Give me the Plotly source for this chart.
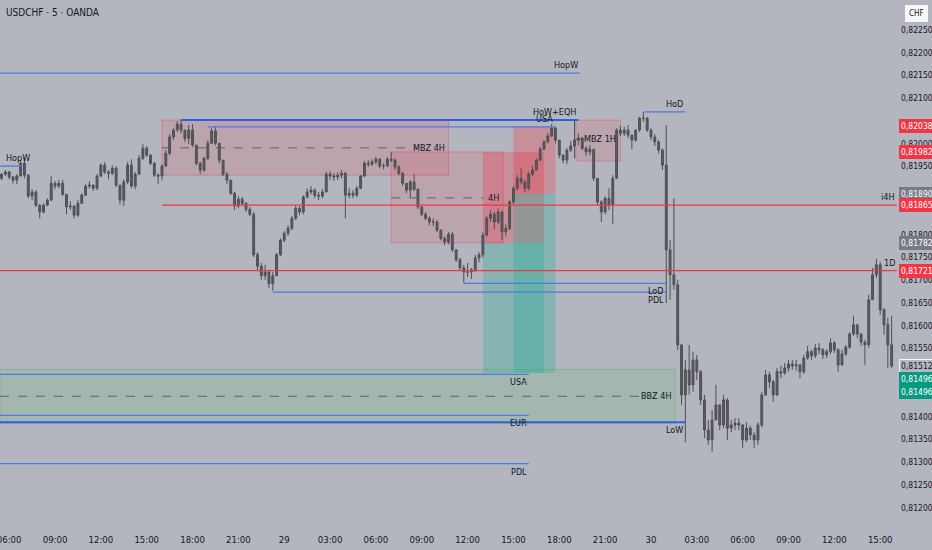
import plotly.graph_objects as go
import pandas as pd

# ---------------- data ----------------
SYMBOL = "USDCHF · 5 · OANDA"
START = "2024-05-28 05:30"   # first 15-minute bar
FIRST_OPEN = 0.81924

close = [
0.81933,0.81938,0.81927,0.81920,0.81929,0.81957,0.81931,0.81885,0.81894,0.81865,
0.81850,0.81865,0.81876,0.81913,0.81907,0.81913,0.81889,0.81861,0.81863,0.81843,
0.81869,0.81887,0.81907,0.81909,0.81902,0.81929,0.81953,0.81938,0.81935,0.81946,
0.81909,0.81876,0.81916,0.81953,0.81907,0.81933,0.81968,0.81990,0.81975,0.81957,
0.81931,0.81929,0.81951,0.81979,0.82015,0.82030,0.82043,0.82030,0.82012,0.82030,
0.81997,0.81957,0.81942,0.81968,0.82001,0.82028,0.82001,0.81964,0.81933,0.81920,
0.81891,0.81863,0.81878,0.81869,0.81856,0.81845,0.81756,0.81731,0.81710,0.81718,
0.81692,0.81710,0.81756,0.81788,0.81803,0.81814,0.81836,0.81858,0.81850,0.81883,
0.81894,0.81898,0.81887,0.81885,0.81894,0.81933,0.81929,0.81927,0.81931,0.81935,
0.81887,0.81891,0.81887,0.81902,0.81929,0.81957,0.81955,0.81960,0.81966,0.81951,
0.81951,0.81966,0.81964,0.81949,0.81935,0.81913,0.81898,0.81916,0.81900,0.81861,
0.81845,0.81836,0.81828,0.81828,0.81810,0.81792,0.81784,0.81801,0.81767,0.81745,
0.81727,0.81718,0.81718,0.81723,0.81749,0.81756,0.81799,0.81836,0.81845,0.81828,
0.81850,0.81806,0.81814,0.81872,0.81902,0.81924,0.81916,0.81902,0.81933,0.81942,
0.81964,0.81988,0.82004,0.82017,0.82034,0.82008,0.81975,0.81964,0.81986,0.81995,
0.82008,0.82012,0.81990,0.81982,0.81988,0.81924,0.81872,0.81850,0.81880,0.81865,
0.81924,0.82030,0.82023,0.82030,0.82019,0.82008,0.82030,0.82056,0.82056,0.82030,
0.82015,0.82004,0.81986,0.81953,0.81767,0.81712,0.81690,0.81558,0.81448,0.81503,
0.81470,0.81525,0.81499,0.81437,0.81371,0.81349,0.81393,0.81426,0.81382,0.81437,
0.81375,0.81382,0.81386,0.81382,0.81349,0.81375,0.81360,0.81349,0.81382,0.81448,
0.81492,0.81477,0.81448,0.81499,0.81496,0.81507,0.81516,0.81512,0.81514,0.81499,
0.81529,0.81543,0.81534,0.81551,0.81547,0.81536,0.81543,0.81562,0.81547,0.81514,
0.81538,0.81553,0.81582,0.81602,0.81582,0.81564,0.81558,0.81657,0.81712,0.81734,
0.81635,0.81602,0.81558,0.81512]

high = [
0.81935,0.81942,0.81940,0.81929,0.81933,0.81964,0.81971,0.81933,0.81900,0.81898,
0.81867,0.81869,0.81880,0.81929,0.81918,0.81920,0.81920,0.81885,0.81874,0.81865,
0.81876,0.81891,0.81911,0.81918,0.81911,0.81933,0.81957,0.81960,0.81942,0.81953,
0.81951,0.81909,0.81922,0.81960,0.81966,0.81938,0.81975,0.81999,0.81995,0.81977,
0.81960,0.81935,0.81955,0.81986,0.82021,0.82034,0.82050,0.82054,0.82030,0.82041,
0.82043,0.81986,0.81960,0.81971,0.82008,0.82034,0.82037,0.81997,0.81960,0.81938,
0.81920,0.81894,0.81885,0.81883,0.81872,0.81861,0.81850,0.81762,0.81738,0.81734,
0.81723,0.81718,0.81760,0.81792,0.81808,0.81821,0.81841,0.81865,0.81863,0.81887,
0.81902,0.81907,0.81902,0.81894,0.81900,0.81938,0.81940,0.81935,0.81938,0.81942,
0.81938,0.81902,0.81898,0.81907,0.81931,0.81962,0.81964,0.81966,0.81971,0.81968,
0.81957,0.81971,0.81982,0.81968,0.81953,0.81938,0.81913,0.81920,0.81933,0.81902,
0.81863,0.81850,0.81841,0.81836,0.81832,0.81812,0.81797,0.81806,0.81806,0.81767,
0.81749,0.81734,0.81738,0.81727,0.81756,0.81762,0.81806,0.81841,0.81854,0.81850,
0.81858,0.81852,0.81823,0.81876,0.81907,0.81931,0.81946,0.81920,0.81938,0.81951,
0.81968,0.81993,0.82008,0.82023,0.82043,0.82037,0.82008,0.81977,0.81990,0.82006,
0.82052,0.82023,0.82015,0.81995,0.81997,0.81986,0.81924,0.81876,0.81885,0.81902,
0.81931,0.82034,0.82039,0.82037,0.82041,0.82012,0.82032,0.82059,0.82070,0.82059,
0.82034,0.82021,0.82008,0.81990,0.82041,0.81788,0.81880,0.81701,0.81558,0.81525,
0.81558,0.81543,0.81536,0.81503,0.81448,0.81393,0.81415,0.81470,0.81426,0.81448,
0.81441,0.81393,0.81397,0.81397,0.81384,0.81388,0.81380,0.81366,0.81388,0.81455,
0.81503,0.81499,0.81481,0.81507,0.81512,0.81518,0.81525,0.81525,0.81525,0.81516,
0.81536,0.81556,0.81547,0.81560,0.81562,0.81551,0.81549,0.81573,0.81566,0.81551,
0.81547,0.81558,0.81586,0.81622,0.81604,0.81584,0.81569,0.81668,0.81727,0.81747,
0.81740,0.81639,0.81617,0.81622]

low = [
0.81920,0.81929,0.81922,0.81913,0.81911,0.81929,0.81924,0.81880,0.81876,0.81861,
0.81836,0.81847,0.81863,0.81876,0.81900,0.81902,0.81885,0.81845,0.81854,0.81836,
0.81839,0.81872,0.81885,0.81902,0.81896,0.81898,0.81927,0.81933,0.81922,0.81931,
0.81905,0.81867,0.81863,0.81911,0.81902,0.81900,0.81938,0.81964,0.81971,0.81953,
0.81927,0.81911,0.81920,0.81949,0.81975,0.82008,0.82026,0.82023,0.82004,0.81999,
0.81993,0.81953,0.81933,0.81938,0.81964,0.82001,0.81997,0.81957,0.81929,0.81911,
0.81887,0.81854,0.81858,0.81863,0.81850,0.81841,0.81751,0.81723,0.81701,0.81701,
0.81683,0.81677,0.81710,0.81753,0.81784,0.81797,0.81810,0.81832,0.81843,0.81845,
0.81880,0.81889,0.81880,0.81876,0.81880,0.81894,0.81920,0.81918,0.81920,0.81924,
0.81836,0.81880,0.81880,0.81883,0.81900,0.81927,0.81949,0.81951,0.81955,0.81946,
0.81944,0.81949,0.81960,0.81942,0.81931,0.81907,0.81891,0.81883,0.81896,0.81856,
0.81841,0.81832,0.81821,0.81819,0.81806,0.81788,0.81777,0.81779,0.81762,0.81740,
0.81723,0.81694,0.81707,0.81703,0.81718,0.81740,0.81749,0.81797,0.81828,0.81812,
0.81823,0.81788,0.81797,0.81810,0.81867,0.81898,0.81911,0.81894,0.81898,0.81929,
0.81942,0.81962,0.81986,0.82001,0.82015,0.82001,0.81968,0.81957,0.81955,0.81982,
0.81968,0.81997,0.81986,0.81973,0.81975,0.81918,0.81865,0.81828,0.81845,0.81854,
0.81823,0.81924,0.82017,0.82017,0.82012,0.81988,0.82004,0.82026,0.82048,0.82026,
0.82008,0.81995,0.81979,0.81942,0.81650,0.81657,0.81679,0.81547,0.81426,0.81344,
0.81448,0.81455,0.81481,0.81426,0.81353,0.81338,0.81323,0.81404,0.81371,0.81375,
0.81349,0.81366,0.81371,0.81371,0.81331,0.81344,0.81349,0.81331,0.81338,0.81377,
0.81446,0.81463,0.81433,0.81446,0.81485,0.81492,0.81499,0.81503,0.81501,0.81485,
0.81494,0.81525,0.81525,0.81529,0.81538,0.81527,0.81529,0.81538,0.81540,0.81499,
0.81512,0.81534,0.81549,0.81578,0.81573,0.81556,0.81514,0.81551,0.81657,0.81705,
0.81624,0.81580,0.81507,0.81507]

# horizontal levels
level_names  = ["HopW", "HopW", "HoW+EQH", "USA", "HoD", "i4H", "1D",
                "LoD", "PDL", "USA", "EUR", "LoW", "PDL"]
level_prices = [0.81951, 0.82155, 0.82052, 0.82037, 0.82070, 0.81865, 0.81721,
                0.81693, 0.81674, 0.81493, 0.81403, 0.81388, 0.81297]
level_start  = ["2024-05-28 05:24", "2024-05-28 05:24", "2024-05-28 17:15", "2024-05-28 19:00",
                "2024-05-29 23:35", "2024-05-28 16:00", "2024-05-28 05:24", "2024-05-29 11:45",
                "2024-05-28 23:15", "2024-05-28 05:24", "2024-05-28 05:24", "2024-05-28 05:24",
                "2024-05-28 05:24"]
level_end    = ["2024-05-28 06:50", "2024-05-29 19:20", "2024-05-29 19:15", "2024-05-29 17:45",
                "2024-05-30 02:15", "2024-05-30 16:05", "2024-05-30 16:05", "2024-05-30 01:00",
                "2024-05-30 01:00", "2024-05-29 16:00", "2024-05-29 16:00", "2024-05-30 02:15",
                "2024-05-29 16:00"]

# supply / demand zones
zone_names  = ["MBZ 4H", "4H", "MBZ 1H", "BBZ 4H"]
zone_start  = ["2024-05-28 16:00", "2024-05-29 07:00", "2024-05-29 19:05", "2024-05-28 05:24"]
zone_end    = ["2024-05-29 10:45", "2024-05-29 14:20", "2024-05-29 22:00", "2024-05-30 01:35"]
zone_top    = [0.82052, 0.81982, 0.82052, 0.81504]
zone_bottom = [0.81931, 0.81782, 0.81962, 0.81385]
zone_mid    = [0.81991, 0.81881, 0.82010, 0.81445]

# short position tools
pos_start  = ["2024-05-29 13:00", "2024-05-29 15:00"]
pos_end    = ["2024-05-29 17:00", "2024-05-29 17:45"]
pos_entry  = [0.81782, 0.81890]
pos_stop   = [0.81982, 0.82038]
pos_target = [0.81496, 0.81496]

# axes
x_range = ["2024-05-28 05:24", "2024-05-30 16:06"]
y_range = [0.811687, 0.823159]
x_tick_vals = ["2024-05-28 06:00", "2024-05-28 09:00", "2024-05-28 12:00", "2024-05-28 15:00",
               "2024-05-28 18:00", "2024-05-28 21:00", "2024-05-29 00:00", "2024-05-29 03:00",
               "2024-05-29 06:00", "2024-05-29 09:00", "2024-05-29 12:00", "2024-05-29 15:00",
               "2024-05-29 18:00", "2024-05-29 21:00", "2024-05-30 00:00", "2024-05-30 03:00",
               "2024-05-30 06:00", "2024-05-30 09:00", "2024-05-30 12:00", "2024-05-30 15:00"]
x_tick_text = ["06:00", "09:00", "12:00", "15:00", "18:00", "21:00", "29", "03:00",
               "06:00", "09:00", "12:00", "15:00", "18:00", "21:00", "30", "03:00",
               "06:00", "09:00", "12:00", "15:00"]
# price-scale ticks that are not covered by the coloured value labels
y_tick_vals = [0.81200, 0.81250, 0.81300, 0.81350, 0.81400, 0.81550,
               0.81600, 0.81650, 0.81700, 0.81750, 0.81800, 0.81950,
               0.82000, 0.82100, 0.82150, 0.82200, 0.82250]

# ---------------- styling ----------------
BG = "#b3b6bf"
TXT = "#131722"
CANDLE = "#4f4f52"
BLUE = "#2f5fe8"
BLUE_L = "#4f78e6"
RED = "#f23645"
TEAL = "#089981"
GRAYLBL = "#787b86"
FONT = "DejaVu Sans Condensed, Liberation Sans Narrow, Roboto, sans-serif"

times = pd.date_range(START, periods=len(close), freq="15min")
opens = [FIRST_OPEN] + close[:-1]
highs = [max(h, o, c) for h, o, c in zip(high, opens, close)]
lows = [min(l, o, c) for l, o, c in zip(low, opens, close)]

fig = go.Figure()
fig.add_trace(go.Candlestick(
    x=times, open=opens, high=highs, low=lows, close=close,
    increasing=dict(line=dict(color=CANDLE, width=1), fillcolor="#5c5c60"),
    decreasing=dict(line=dict(color=CANDLE, width=1), fillcolor="#5c5c60"),
    whiskerwidth=0, showlegend=False, hoverinfo="skip"))

shapes = []
annots = []

# zones
for i, name in enumerate(zone_names):
    green = name.startswith("BBZ")
    fill = "rgba(102,187,106,0.18)" if green else "rgba(242,54,69,0.14)"
    edge = "rgba(76,175,80,0.35)" if green else "rgba(242,54,69,0.35)"
    shapes.append(dict(type="rect", xref="x", yref="y", layer="below",
                       x0=zone_start[i], x1=zone_end[i], y0=zone_bottom[i], y1=zone_top[i],
                       fillcolor=fill, line=dict(color=edge, width=1)))
    gap = pd.Timedelta(hours=1.3 if len(name) <= 2 else 2.1)
    shapes.append(dict(type="line", xref="x", yref="y", layer="below",
                       x0=zone_start[i], x1=pd.Timestamp(zone_end[i]) - gap,
                       y0=zone_mid[i], y1=zone_mid[i],
                       line=dict(color="#5f6168", width=1, dash="dash")))
    annots.append(dict(x=zone_end[i], y=zone_mid[i], xref="x", yref="y", text=name,
                       xanchor="right", yanchor="middle", xshift=-2, showarrow=False,
                       font=dict(size=9, color=TXT, family=FONT)))

# position tools
for i in range(len(pos_entry)):
    shapes.append(dict(type="rect", xref="x", yref="y", layer="below",
                       x0=pos_start[i], x1=pos_end[i], y0=pos_entry[i], y1=pos_stop[i],
                       fillcolor="rgba(242,54,69,0.30)", line=dict(width=0)))
    shapes.append(dict(type="rect", xref="x", yref="y", layer="below",
                       x0=pos_start[i], x1=pos_end[i], y0=pos_target[i], y1=pos_entry[i],
                       fillcolor="rgba(34,171,148,0.30)", line=dict(width=0)))

# levels
for i, name in enumerate(level_names):
    if name in ("i4H", "1D"):
        col, w = RED, 1.3
    elif name in ("LoW", "HoW+EQH"):
        col, w = BLUE, 2
    else:
        col, w = BLUE_L, 1.3
    shapes.append(dict(type="line", xref="x", yref="y",
                       x0=level_start[i], x1=level_end[i],
                       y0=level_prices[i], y1=level_prices[i],
                       line=dict(color=col, width=w)))
    above = i < 7
    if i == 0:
        ax, anchor, xs = level_start[i], "left", 4
    else:
        ax, anchor, xs = level_end[i], "right", 0
    annots.append(dict(x=ax, y=level_prices[i], xref="x", yref="y", text=name,
                       xanchor=anchor, xshift=xs, yanchor="middle",
                       yshift=8 if above else -8,
                       showarrow=False, font=dict(size=9, color=TXT, family=FONT)))

# price-scale labels
def fmt(p):
    return f"{p:.5f}".replace(".", ",")

def axis_label(p, bg, fg="white", yshift=0, border=None):
    annots.append(dict(xref="paper", x=1, xanchor="left", xshift=2, yref="y", y=p,
                       yanchor="middle", yshift=yshift, text=fmt(p), showarrow=False,
                       bgcolor=bg, bordercolor=border or bg, borderwidth=1, borderpad=1,
                       font=dict(size=8.5, color=fg, family=FONT)))

for s in pos_stop:
    axis_label(s, RED)
for e in pos_entry:
    axis_label(e, GRAYLBL)
axis_label(level_prices[level_names.index("i4H")], RED)
axis_label(level_prices[level_names.index("1D")], RED)
axis_label(close[-1], BG, fg=TXT, border="#f4f4f4")
axis_label(pos_target[0], TEAL, yshift=-6)
axis_label(pos_target[1], TEAL, yshift=-19)

# title and currency
annots.append(dict(xref="paper", yref="paper", x=0, y=1, xanchor="left", yanchor="top",
                   xshift=4, yshift=-5, text=SYMBOL, showarrow=False,
                   font=dict(size=10, color=TXT, family=FONT)))
annots.append(dict(xref="paper", yref="paper", x=1, y=1, xanchor="left", yanchor="top",
                   xshift=8, yshift=-5, text="CHF", showarrow=False, bgcolor="#f7f7f7",
                   bordercolor="#f7f7f7", borderpad=3,
                   font=dict(size=8, color=TXT, family=FONT)))

fig.update_layout(
    width=932, height=550,
    margin=dict(l=0, r=35, t=0, b=28, autoexpand=False),
    paper_bgcolor=BG, plot_bgcolor=BG,
    separators=", ",
    shapes=shapes, annotations=annots,
    showlegend=False,
    xaxis=dict(type="date", range=x_range, rangeslider=dict(visible=False),
               tickvals=x_tick_vals, ticktext=x_tick_text, showgrid=False, zeroline=False,
               showline=False, ticks="", ticklabelstandoff=10, automargin=False,
               ticklabeloverflow="allow",
               tickfont=dict(size=9.5, color=TXT, family=FONT)),
    yaxis=dict(side="right", range=y_range, tickvals=y_tick_vals, tickformat=".5f",
               showgrid=False, zeroline=False, showline=False, ticks="",
               ticklabelstandoff=3, automargin=False,
               tickfont=dict(size=8.5, color=TXT, family=FONT)),
)

fig.write_html("out.html", config={"displayModeBar": False},
               post_script="document.body.style.margin='0';document.body.style.overflow='hidden';")
